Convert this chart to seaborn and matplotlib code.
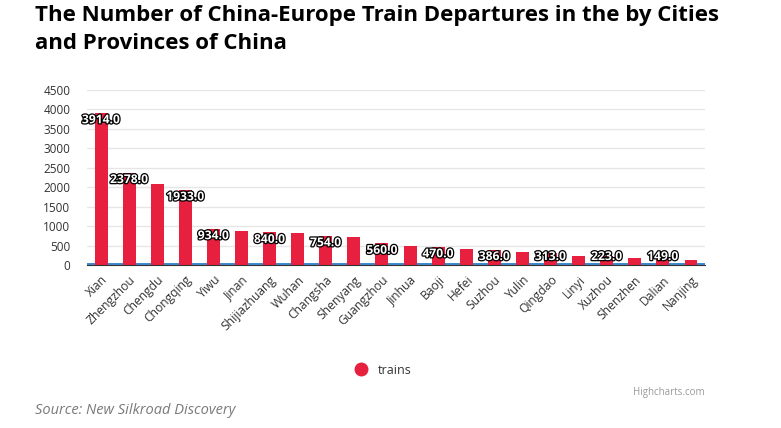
import seaborn as sns
import matplotlib.pyplot as plt
import matplotlib.patheffects as pe
from matplotlib.lines import Line2D
import pandas as pd

# --- data ---
cities = ["Xian", "Zhengzhou", "Chengdu", "Chongqing", "Yiwu", "Jinan",
          "Shijiazhuang", "Wuhan", "Changsha", "Shenyang", "Guangzhou",
          "Jinhua", "Baoji", "Hefei", "Suzhou", "Yulin", "Qingdao", "Linyi",
          "Xuzhou", "Shenzhen", "Dalian", "Nanjing"]
trains = [3914, 2378, 2080, 1933, 934, 866, 840, 815, 754, 725, 560,
          500, 470, 415, 386, 335, 313, 238, 223, 175, 149, 120]
# labels that stay visible (others hidden by overlap in the original)
labeled = ["Xian", "Zhengzhou", "Chongqing", "Yiwu", "Shijiazhuang",
           "Changsha", "Guangzhou", "Baoji", "Suzhou", "Qingdao", "Xuzhou",
           "Dalian"]
y_ticks = [0, 500, 1000, 1500, 2000, 2500, 3000, 3500, 4000, 4500]

RED = '#e6203e'
BLUE = '#2a7fc9'
TEXT = '#333333'

df = pd.DataFrame({"city": cities, "trains": trains})

sns.set_style("white")
plt.rcParams['font.family'] = ['Open Sans', 'DejaVu Sans']

fig = plt.figure(figsize=(7.81, 4.28), dpi=100)
ax = fig.add_axes([0.1114, 0.3808, 0.7913, 0.4089])

sns.barplot(data=df, x="city", y="trains", color=RED, width=0.46,
            saturation=1, edgecolor='none', ax=ax, zorder=3)

# thin blue base strip
ax.axhline(22, color=BLUE, linewidth=1.3, zorder=2)

ax.set_xlim(-0.5, len(cities) - 0.5)
ax.set_ylim(0, 4500)
ax.set_yticks(y_ticks)
ax.set_yticklabels([str(t) for t in y_ticks], fontsize=8.5, color=TEXT)
ax.yaxis.grid(True, color='#e6e6e6', linewidth=1, zorder=0)
ax.set_axisbelow(True)
ax.tick_params(axis='y', length=0, pad=12)
ax.tick_params(axis='x', length=0, pad=6)
ax.set_xticks(range(len(cities)))
ax.set_xticklabels(cities, rotation=45, ha='right', rotation_mode='anchor',
                   fontsize=8.7, color=TEXT)
ax.set_xlabel("")
ax.set_ylabel("")

for s in ['top', 'right', 'left']:
    ax.spines[s].set_visible(False)
ax.spines['bottom'].set_color('#333333')
ax.spines['bottom'].set_linewidth(0.8)
ax.spines['bottom'].set_zorder(4)

# data labels: white with dark outline
px_per_unit = (ax.get_window_extent().height) / 4500
for i, (c, v) in enumerate(zip(cities, trains)):
    if c not in labeled:
        continue
    top_px = v * px_per_unit
    y_px = max(top_px - 7, 8.5)
    ax.annotate(f"{v:.1f}", xy=(i, 0), xytext=(0, y_px),
                textcoords='offset pixels',
                ha='center', va='center', fontsize=8.7, fontweight='bold',
                color='white', zorder=5,
                path_effects=[pe.withStroke(linewidth=1.8, foreground='black')])

# title
fig.text(35 / 781, 1 - 5 / 428,
         "The Number of China-Europe Train Departures in the by Cities\nand Provinces of China",
         ha='left', va='top', fontsize=16, fontweight='bold',
         color='black', linespacing=1.45)

# legend
handle = Line2D([], [], marker='o', linestyle='none', markersize=9,
                markerfacecolor=RED, markeredgecolor=RED)
fig.legend(handles=[handle], labels=["trains"], loc='center',
           bbox_to_anchor=(380 / 781, 1 - 370 / 428), frameon=False,
           fontsize=9, handletextpad=0.3, labelcolor=TEXT)

fig.text(705 / 781, 1 - 392 / 428, "Highcharts.com", ha='right',
         va='center', fontsize=7, color='#999999')
fig.text(35 / 781, 1 - 411 / 428, "Source: New Silkroad Discovery",
         ha='left', va='center', fontsize=10.5, style='italic',
         color='#7a7a7a')

fig.savefig("out.png", dpi=100)
